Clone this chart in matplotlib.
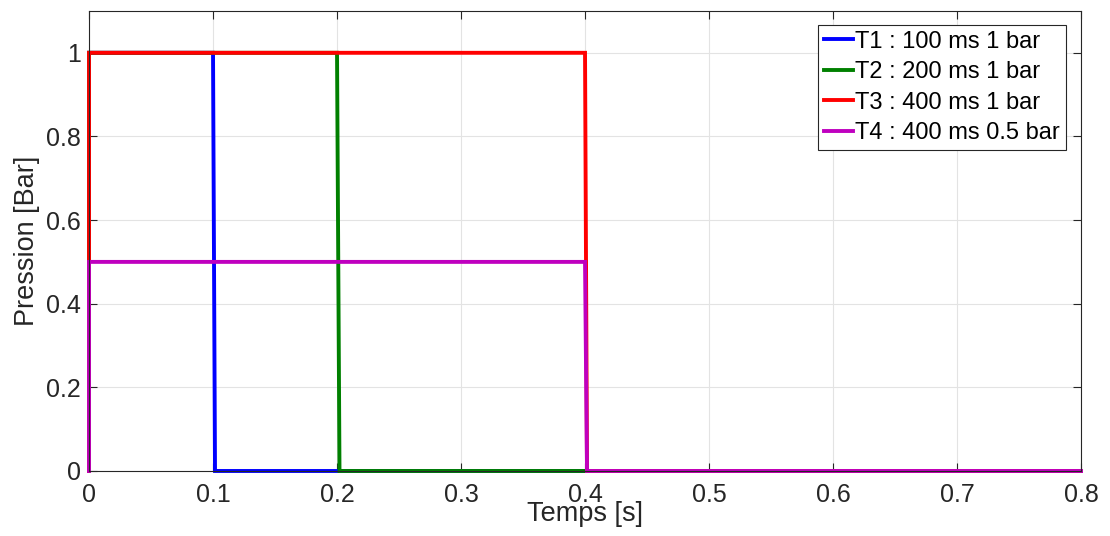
import matplotlib
matplotlib.use("Agg")
import matplotlib.pyplot as plt

plt.rcParams["font.family"] = ["Liberation Sans", "DejaVu Sans"]

# pulses: time [s] / pressure [bar]
t1 = [0.0, 0.0, 0.1, 0.1016, 0.8]
p1 = [0.0, 1.0, 1.0, 0.0, 0.0]
t2 = [0.0, 0.0, 0.2, 0.2020, 0.8]
p2 = [0.0, 1.0, 1.0, 0.0, 0.0]
t3 = [0.0, 0.0, 0.4, 0.4016, 0.8]
p3 = [0.0, 1.0, 1.0, 0.0, 0.0]
t4 = [0.0, 0.0, 0.4, 0.4016, 0.8]
p4 = [0.0, 0.5, 0.5, 0.0, 0.0]

labels = ["T1 : 100 ms 1 bar", "T2 : 200 ms 1 bar",
          "T3 : 400 ms 1 bar", "T4 : 400 ms 0.5 bar"]
colors = ["#0000ff", "#008000", "#ff0000", "#bf00bf"]

xticks = [0, 0.1, 0.2, 0.3, 0.4, 0.5, 0.6, 0.7, 0.8]
yticks = [0, 0.2, 0.4, 0.6, 0.8, 1.0]

fig = plt.figure(figsize=(11.1, 5.36), dpi=100)
ax = fig.add_axes([0.0802, 0.1213, 0.8937, 0.8582])

for t, p, c, lab in zip([t1, t2, t3, t4], [p1, p2, p3, p4], colors, labels):
    ax.plot(t, p, color=c, lw=2.8, label=lab, solid_joinstyle="miter",
            clip_on=False)

ax.set_xlim(0, 0.8)
ax.set_ylim(0, 1.1)
ax.set_xticks(xticks)
ax.set_xticklabels(["0", "0.1", "0.2", "0.3", "0.4", "0.5", "0.6", "0.7", "0.8"])
ax.set_yticks(yticks)
ax.set_yticklabels(["0", "0.2", "0.4", "0.6", "0.8", "1"])

ax.grid(True, color="#e3e3e3", lw=0.8)
ax.set_axisbelow(True)
for s in ax.spines.values():
    s.set_color("#262626")
    s.set_linewidth(0.8)
ax.tick_params(direction="in", top=True, right=True, length=6, width=0.8,
               colors="#262626", labelsize=18)
ax.tick_params(axis="x", pad=9)
ax.tick_params(axis="y", pad=6)

ax.set_xlabel("Temps [s]", fontsize=19.5, color="#262626", labelpad=-5)
ax.set_ylabel("Pression [Bar]", fontsize=19.5, color="#262626", labelpad=4)

leg = ax.legend(loc="upper right", bbox_to_anchor=(0.985, 0.97), fontsize=17,
                fancybox=False, framealpha=1, edgecolor="#262626",
                handlelength=1.25, handletextpad=0.1, borderpad=0.25,
                labelspacing=0.36, borderaxespad=0)
leg.get_frame().set_linewidth(0.8)

fig.savefig("out.png", dpi=100)
